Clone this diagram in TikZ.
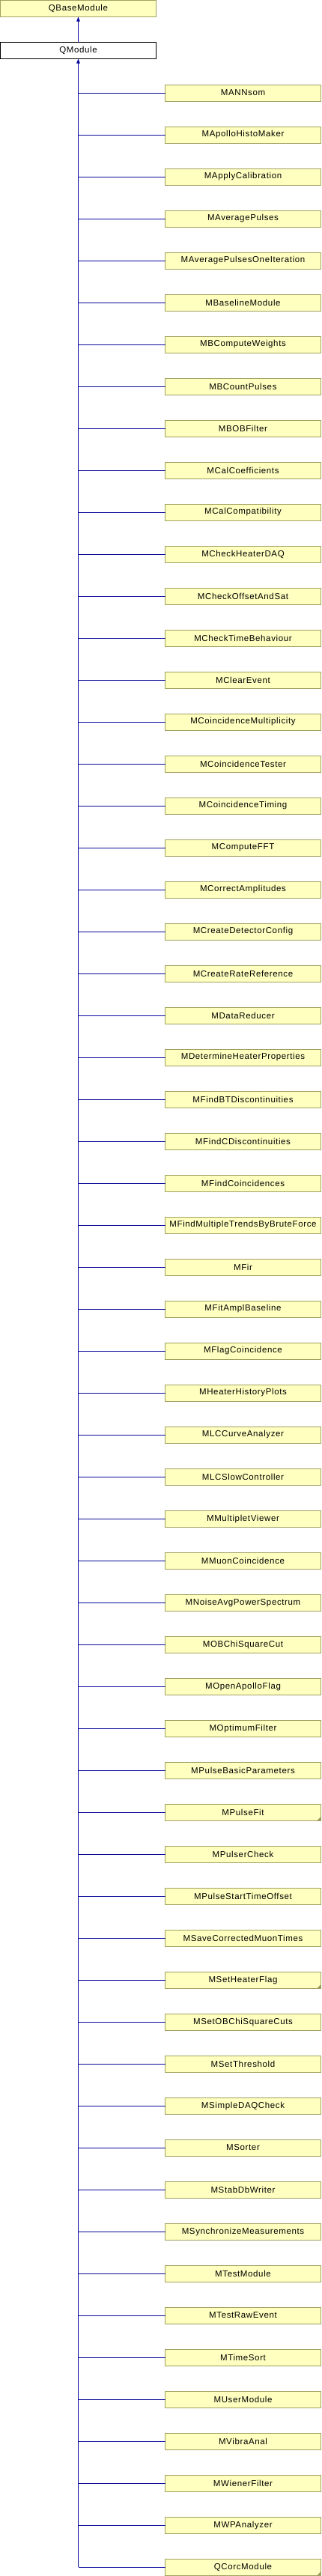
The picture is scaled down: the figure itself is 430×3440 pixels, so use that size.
\documentclass[tikz,border=0pt]{standalone}
\usepackage{fontspec}
\setmainfont{Liberation Sans}
\newfontfamily\boxfont[LetterSpace=5.5]{Liberation Sans}
\usetikzlibrary{arrows.meta}
\definecolor{boxfill}{HTML}{FFFFC0}
\definecolor{boxline}{HTML}{A0A060}
\definecolor{edgeblue}{HTML}{0A0A9A}
\definecolor{foldcol}{HTML}{9A9A60}
\begin{document}
\begin{tikzpicture}[x=1pt,y=-1pt,
  cls/.style={draw=boxline,fill=boxfill,line width=1pt,minimum width=208pt,minimum height=22pt,inner sep=0pt,outer sep=0pt,font=\boxfont\fontsize{11.5}{13}\selectfont},
  rootcls/.style={cls,draw=black,fill=white},
  inh/.style={draw=edgeblue,line width=1pt},
  inharrow/.style={inh,-{Triangle[width=4.5pt,length=6pt]}},
  fold/.style={fill=foldcol}]
\useasboundingbox (0,0) rectangle (430,3440);
\node[cls] (qbase) at (104.5,11.5) {QBaseModule};
\node[rootcls] (qm) at (104.5,67.5) {QModule};
\draw[inharrow] (qm.north) -- (qbase.south);
\foreach \n [count=\i] in {MANNsom,MApolloHistoMaker,MApplyCalibration,MAveragePulses,MAveragePulsesOneIteration,MBaselineModule,MBComputeWeights,MBCountPulses,MBOBFilter,MCalCoefficients,MCalCompatibility,MCheckHeaterDAQ,MCheckOffsetAndSat,MCheckTimeBehaviour,MClearEvent,MCoincidenceMultiplicity,MCoincidenceTester,MCoincidenceTiming,MComputeFFT,MCorrectAmplitudes,MCreateDetectorConfig,MCreateRateReference,MDataReducer,MDetermineHeaterProperties,MFindBTDiscontinuities,MFindCDiscontinuities,MFindCoincidences,MFindMultipleTrendsByBruteForce,MFir,MFitAmplBaseline,MFlagCoincidence,MHeaterHistoryPlots,MLCCurveAnalyzer,MLCSlowController,MMultipletViewer,MMuonCoincidence,MNoiseAvgPowerSpectrum,MOBChiSquareCut,MOpenApolloFlag,MOptimumFilter,MPulseBasicParameters,MPulseFit,MPulserCheck,MPulseStartTimeOffset,MSaveCorrectedMuonTimes,MSetHeaterFlag,MSetOBChiSquareCuts,MSetThreshold,MSimpleDAQCheck,MSorter,MStabDbWriter,MSynchronizeMeasurements,MTestModule,MTestRawEvent,MTimeSort,MUserModule,MVibraAnal,MWienerFilter,MWPAnalyzer,QCorcModule}{
  \node[cls] (c\i) at (324.5,{124+56*(\i-1)}) {\n};
  \draw[inh] (c\i.west) -- (c\i.west -| qm.south);
}
\draw[inharrow] (c60.west -| qm.south) -- (qm.south);
\foreach \i in {42,46,60}{
  \fill[fold] ([xshift=-5pt]c\i.south east) -- (c\i.south east) -- ([yshift=5pt]c\i.south east) -- cycle;
}
\end{tikzpicture}
\end{document}
